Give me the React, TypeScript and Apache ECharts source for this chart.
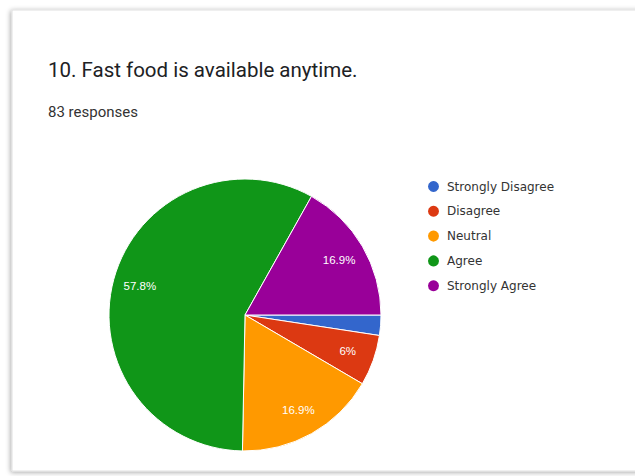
import React, { useEffect, useRef } from "react";
import * as echarts from "echarts";

const categories = ["Strongly Disagree", "Disagree", "Neutral", "Agree", "Strongly Agree"];
const counts = [2, 5, 14, 48, 14];
const colors = ["#3366cc", "#dc3912", "#ff9900", "#109618", "#990099"];
const titleText = "10. Fast food is available anytime.";
const subtitleText = "83 responses";

const total = counts.reduce((a, b) => a + b, 0);
const fmtPct = (v: number) => {
  const s = ((v / total) * 100).toFixed(1);
  return (s.endsWith(".0") ? s.slice(0, -2) : s) + "%";
};

export default function App() {
  const ref = useRef<HTMLDivElement>(null);
  useEffect(() => {
    if (!ref.current) return;
    const chart = echarts.init(ref.current, null, { renderer: "svg" });
    const data = categories.map((name, i) => ({
      name,
      value: counts[i],
      itemStyle: { color: colors[i] },
    }));
    const labelData = categories.map((name, i) => ({
      name,
      value: counts[i],
      label: { show: counts[i] / total >= 0.05 },
    }));
    chart.setOption({
      animation: false,
      backgroundColor: "#ffffff",
      graphic: [
        {
          type: "rect",
          z: -10,
          silent: true,
          shape: { x: 12, y: 10, width: 640, height: 461 },
          style: {
            fill: "#ffffff",
            stroke: "#e0e0e0",
            lineWidth: 1,
            shadowBlur: 5,
            shadowColor: "rgba(0,0,0,0.35)",
            shadowOffsetX: -1,
            shadowOffsetY: 1,
          },
        },
      ],
      title: [
        {
          text: titleText,
          left: 48,
          top: 59,
          padding: 0,
          textStyle: {
            fontFamily: "Roboto",
            fontSize: 20.5,
            fontWeight: "normal",
            color: "#202124",
          },
        },
        {
          text: subtitleText,
          left: 48,
          top: 104,
          padding: 0,
          textStyle: {
            fontFamily: "Roboto",
            fontSize: 15,
            fontWeight: "normal",
            color: "#333333",
          },
        },
      ],
      legend: {
        orient: "vertical",
        left: 426,
        top: 179,
        padding: 0,
        icon: "circle",
        itemWidth: 13,
        itemHeight: 13,
        itemGap: 9.8,
        data: categories,
        textStyle: {
          fontFamily: "DejaVu Sans",
          fontSize: 12,
          color: "#333333",
          lineHeight: 13,
          padding: [0, 0, 0, 2],
        },
      },
      series: [
        {
          type: "pie",
          center: [245, 315],
          radius: [0, 136],
          startAngle: 0,
          clockwise: true,
          silent: true,
          label: { show: false },
          labelLine: { show: false },
          itemStyle: { borderColor: "#ffffff", borderWidth: 1 },
          data,
        },
        {
          type: "pie",
          center: [245, 315],
          radius: [76, 136],
          startAngle: 0,
          clockwise: true,
          silent: true,
          z: 5,
          itemStyle: { color: "rgba(0,0,0,0)", borderWidth: 0 },
          label: {
            show: true,
            position: "inside",
            color: "#ffffff",
            fontFamily: "Liberation Sans",
            fontSize: 11.5,
            formatter: (p: any) => fmtPct(p.value),
          },
          labelLine: { show: false },
          data: labelData,
        },
      ],
    });
    return () => chart.dispose();
  }, []);
  return (
    <div
      ref={ref}
      style={{ position: "absolute", left: 0, top: 0, width: 635, height: 476 }}
    />
  );
}
